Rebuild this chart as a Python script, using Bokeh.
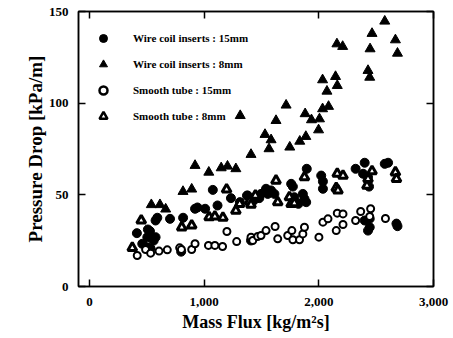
from bokeh.plotting import figure
from bokeh.models import (Range1d, FixedTicker, NumeralTickFormatter, LinearAxis,
                          Legend, LegendItem, ColumnDataSource)
from bokeh.embed import file_html
from bokeh.resources import INLINE

# ---- data ----
wc15_x = [414, 461, 505, 510, 528, 560, 577, 505, 534, 577, 592, 703, 800, 817, 921, 942,
          1009, 1076, 1117, 1234, 1312, 1374, 1380, 1409, 1432, 1481, 1496, 1525, 1540, 1555,
          1584, 1613, 1759, 1774, 1787, 1822, 1861, 1875, 1890, 1895, 2021, 2036, 2036, 2321,
          2386, 2400, 2429, 2438, 2575, 2604, 2400, 2444, 2429, 2444, 2677, 2686]
wc15_y = [29.1, 23.3, 26.9, 31.1, 30.2, 25.0, 26.9, 21.4, 20.6, 36.0, 37.5, 36.9, 19.0, 37.5,
          42.4, 43.1, 42.4, 52.7, 44.2, 48.2, 46.0, 49.6, 49.6, 25.1, 46.9, 48.2, 50.5, 51.4,
          53.3, 50.5, 52.4, 50.5, 56.0, 54.5, 48.7, 45.1, 50.5, 47.8, 46.0, 64.2, 60.5, 57.3,
          53.3, 64.2, 61.5, 67.5, 59.6, 54.5, 66.9, 67.5, 36.0, 32.3, 30.5, 37.0, 34.3, 32.9]

wc8_x = [540, 615, 665, 816, 892, 921, 1041, 1149, 1204, 1277, 1315, 1409, 1531, 1566, 1584,
         1627, 1715, 1747, 1834, 1881, 1887, 1936, 1998, 2006, 2033, 2033, 2071, 2085, 2146,
         2158, 2161, 2208, 2429, 2444, 2447, 2464, 2575, 2668, 2686]
wc8_y = [44.6, 44.6, 42.2, 51.8, 53.1, 66.0, 62.3, 64.7, 65.6, 64.2, 93.2, 72.0, 82.9, 75.1,
         80.0, 90.5, 98.9, 76.0, 79.2, 94.2, 81.8, 90.9, 85.4, 91.4, 96.9, 112.7, 106.5, 98.2,
         114.5, 132.3, 109.6, 130.9, 117.8, 114.1, 129.6, 138.0, 144.7, 134.5, 127.2]

st15_x = [417, 490, 534, 607, 679, 787, 802, 892, 921, 1038, 1094, 1161, 1199, 1284, 1409,
          1424, 1467, 1496, 1540, 1619, 1642, 1729, 1765, 1774, 1832, 1861, 1875, 2001, 2036,
          2080, 2152, 2161, 2211, 2211, 2321, 2365, 2452, 2444, 2581]
st15_y = [16.9, 20.2, 18.2, 19.3, 20.0, 21.1, 20.2, 20.2, 23.3, 22.4, 22.4, 21.8, 30.0, 24.5,
          26.9, 25.1, 27.3, 27.8, 30.5, 32.7, 26.0, 27.8, 30.5, 25.5, 25.5, 28.7, 32.3, 26.9,
          35.1, 36.9, 30.5, 40.0, 39.6, 33.8, 36.0, 40.9, 42.4, 38.2, 37.1]

st8_x = [374, 452, 805, 892, 1044, 1094, 1164, 1196, 1277, 1310, 1396, 1409, 1447, 1627, 1642,
         1744, 1759, 1787, 1875, 2152, 2167, 2161, 2211, 2420, 2429, 2464, 2668, 2677]
st8_y = [21.1, 36.0, 32.3, 33.3, 37.8, 38.2, 37.5, 52.9, 41.4, 45.1, 46.4, 44.6, 49.6, 57.8,
         46.0, 48.7, 45.1, 45.4, 59.6, 53.8, 52.4, 61.5, 60.5, 55.0, 58.7, 62.9, 62.3, 58.7]

legend_labels = ["Wire coil inserts : 15mm", "Wire coil inserts : 8mm",
                 "Smooth tube : 15mm", "Smooth tube : 8mm"]
x_ticks = [0, 1000, 2000, 3000]
y_ticks = [0, 50, 100, 150]
x_title = "Mass Flux [kg/m\u00b2s]"
y_title = "Pressure Drop [kPa/m]"

FONT = "Liberation Serif"

p = figure(width=453, height=338, output_backend="svg", toolbar_location=None,
           x_range=Range1d(-95, 3000), y_range=Range1d(0, 150),
           min_border_left=78, min_border_right=20, min_border_top=11, min_border_bottom=52)
p.grid.visible = False
p.background_fill_color = "white"
p.outline_line_color = "black"
p.outline_line_width = 1.5

for ax, ticks in ((p.xaxis[0], x_ticks), (p.yaxis[0], y_ticks)):
    ax.ticker = FixedTicker(ticks=ticks)
    ax.formatter = NumeralTickFormatter(format="0,0")
    ax.major_tick_in = 7
    ax.major_tick_out = 0
    ax.minor_tick_line_color = None
    ax.axis_line_width = 1.5
    ax.major_tick_line_width = 1.5
    ax.major_label_text_font = FONT
    ax.major_label_text_font_style = "bold"
    ax.major_label_text_font_size = "13px"
    ax.major_label_text_color = "black"
    ax.axis_label_text_font = FONT
    ax.axis_label_text_font_style = "bold"
    ax.axis_label_text_color = "black"

p.xaxis.axis_label = x_title
p.xaxis.axis_label_text_font_size = "18px"
p.xaxis.major_label_standoff = 11
p.xaxis.axis_label_standoff = 3
p.yaxis.axis_label = y_title
p.yaxis.axis_label_text_font_size = "19px"
p.yaxis.major_label_standoff = 10
p.yaxis.axis_label_standoff = 0

for loc, ticks in (("above", x_ticks), ("right", y_ticks)):
    a = LinearAxis(ticker=FixedTicker(ticks=ticks), major_tick_in=7, major_tick_out=0,
                   minor_tick_line_color=None,
                   major_label_overrides={t: "" for t in ticks},
                   major_label_standoff=0, axis_line_width=1.5, major_tick_line_width=1.5)
    p.add_layout(a, loc)

s15 = p.scatter(wc15_x, wc15_y, marker="circle", size=9, fill_color="black", line_color="black")
s8 = p.scatter(wc8_x, wc8_y, marker="triangle", size=10, fill_color="black", line_color="black")
o15 = p.scatter(st15_x, st15_y, marker="circle", size=7, fill_color="white", line_color="black",
                line_width=2)
o8 = p.scatter(st8_x, st8_y, marker="triangle", size=9, fill_color="white", line_color="black",
               line_width=3)

# larger legend markers (legend only, no visible data)
nan = float("nan")
def proxy(**kw):
    return p.scatter("x", "y", source=ColumnDataSource(dict(x=[nan], y=[nan])), **kw)
l1 = proxy(marker="circle", size=13, fill_color="black", line_color="black")
l2 = proxy(marker="triangle", size=12, fill_color="black", line_color="black")
l3 = proxy(marker="circle", size=11, fill_color="white", line_color="black", line_width=2.5)
l4 = proxy(marker="triangle", size=11, fill_color="white", line_color="black", line_width=2.5)

legend = Legend(items=[LegendItem(label=t, renderers=[r]) for t, r in zip(legend_labels, [l1, l2, l3, l4])],
                location=(15, 160), border_line_color=None, background_fill_alpha=0,
                padding=5, spacing=6, glyph_width=20, glyph_height=20, label_height=20,
                label_standoff=20, label_text_font=FONT, label_text_font_style="bold",
                label_text_font_size="11px", label_text_color="black")
p.add_layout(legend, "center")

open("out.html", "w").write(file_html(p, INLINE))
